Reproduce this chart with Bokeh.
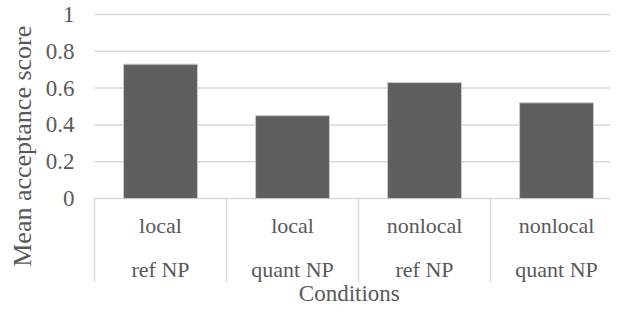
import math
from bokeh.plotting import figure
from bokeh.models import Range1d, ColumnDataSource
from bokeh.core.properties import value
from bokeh.embed import file_html
from bokeh.resources import INLINE

# ---- data ----
conditions_top = ["local", "local", "nonlocal", "nonlocal"]
conditions_bottom = ["ref NP", "quant NP", "ref NP", "quant NP"]
scores = [0.73, 0.45, 0.63, 0.52]
y_ticks = [0, 0.2, 0.4, 0.6, 0.8, 1]
y_tick_labels = ["0", "0.2", "0.4", "0.6", "0.8", "1"]
x_title = "Conditions"
y_title = "Mean acceptance score"

FONT = "Liberation Serif"
TXT = "#595959"
GRID = "#d9d9d9"

n = len(scores)
centers = [i + 0.5 for i in range(n)]

X_START, X_END = -0.7121, 3.909
Y_START, Y_END = -0.5978, 1.0761
SEP_BOTTOM = -0.455

p = figure(width=610, height=308, output_backend="svg", toolbar_location=None,
           x_range=Range1d(X_START, X_END), y_range=Range1d(Y_START, Y_END),
           min_border_left=0, min_border_right=0, min_border_top=0, min_border_bottom=0)
p.outline_line_color = None
p.background_fill_color = "white"
p.border_fill_color = "white"
p.xaxis.visible = False
p.yaxis.visible = False
p.xgrid.visible = False
p.ygrid.visible = False

# horizontal gridlines (value axis)
p.segment(x0=[0] * len(y_ticks), y0=y_ticks, x1=[X_END] * len(y_ticks), y1=y_ticks,
          line_color=GRID, line_width=1.5)

# value tick labels
tick_src = ColumnDataSource(dict(y=y_ticks, t=y_tick_labels))
p.text(x=-0.1515, y="y", text="t", source=tick_src, text_font=value(FONT),
       text_font_size="23px", text_color=TXT, text_align="right", text_baseline="middle")

# bars
src = ColumnDataSource(dict(x=centers, top=scores, l1=conditions_top, l2=conditions_bottom))
p.vbar(x="x", top="top", bottom=0, width=0.56, source=src,
       fill_color="#5f5f5f", line_color="#c8c8c8", line_width=1)

# category separators
sep_x = list(range(n + 1))
p.segment(x0=sep_x, y0=[0] * len(sep_x), x1=sep_x, y1=[SEP_BOTTOM] * len(sep_x),
          line_color=GRID, line_width=1.5)

# category labels (two rows)
p.text(x="x", y=-0.148, text="l1", source=src, text_font=value(FONT),
       text_font_size="22px", text_color=TXT, text_align="center", text_baseline="middle")
p.text(x="x", y=-0.384, text="l2", source=src, text_font=value(FONT),
       text_font_size="22px", text_color=TXT, text_align="center", text_baseline="middle")

# axis titles
p.text(x=[1.93], y=[-0.515], text=[x_title], text_font=value(FONT),
       text_font_size="23px", text_color=TXT, text_align="center", text_baseline="middle")
p.text(x=[-0.545], y=[0.284], text=[y_title], angle=math.pi / 2, text_font=value(FONT),
       text_font_size="26px", text_color=TXT, text_align="center", text_baseline="middle")

open("out.html", "w").write(file_html(p, INLINE))
